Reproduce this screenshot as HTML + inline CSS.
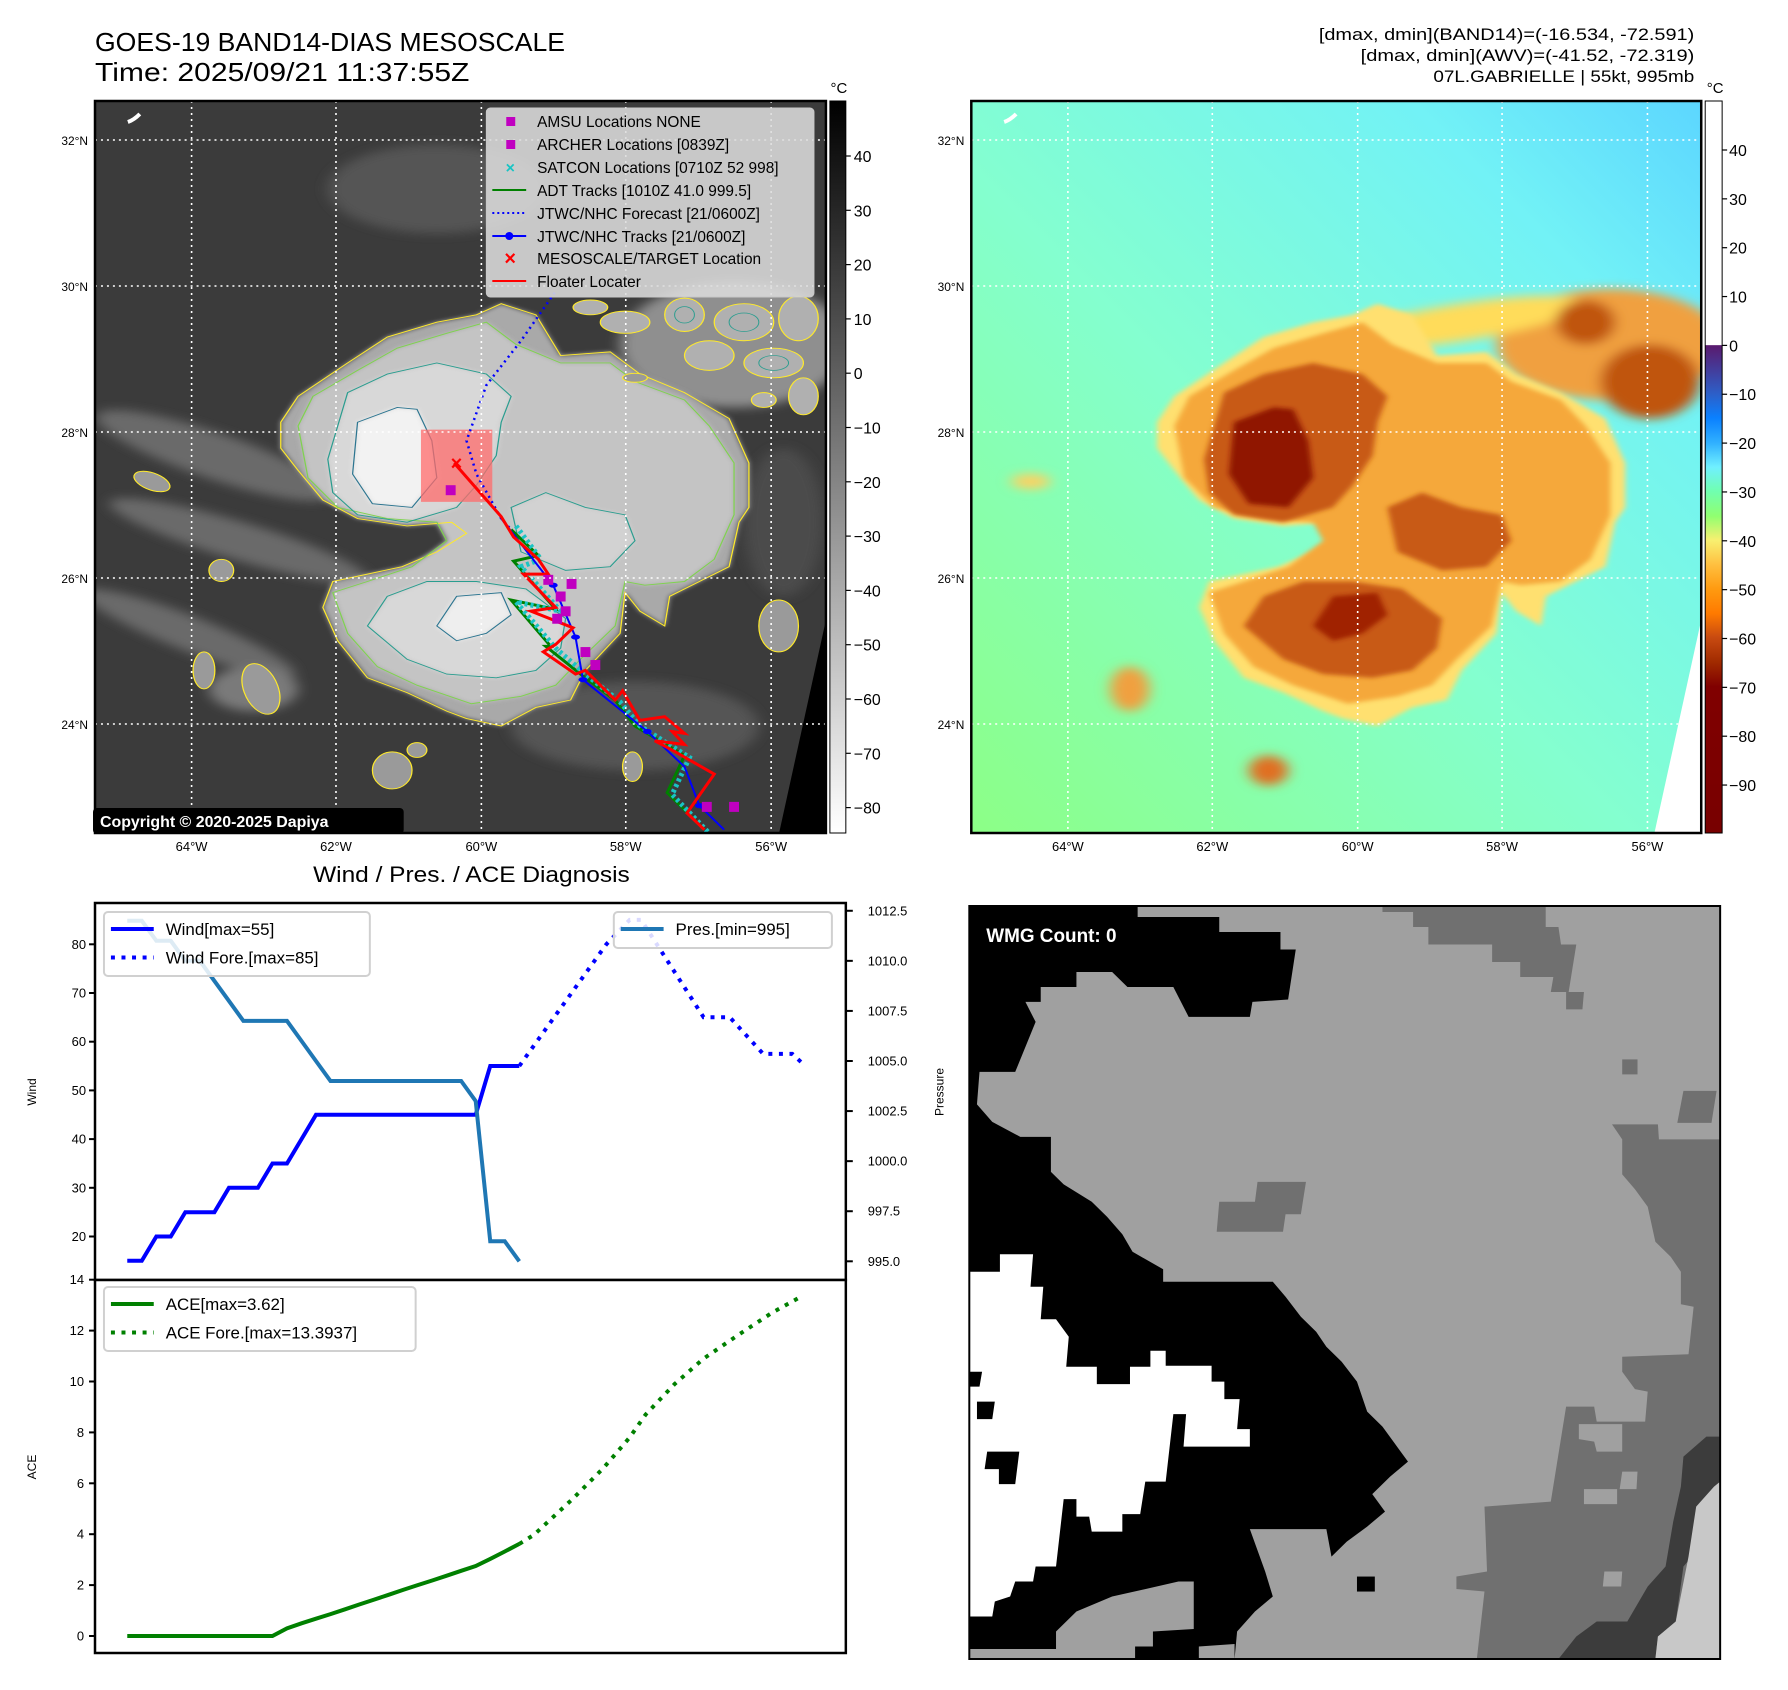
<!DOCTYPE html>
<html><head><meta charset="utf-8"><title>GOES-19 Band14 Mesoscale diagnostics</title>
<style>
html,body{margin:0;padding:0;background:#fff;}
svg{display:block;font-family:"Liberation Sans","DejaVu Sans",sans-serif;}
</style></head>
<body>
<svg id="page" width="1788" height="1690" viewBox="0 0 1788 1690" xmlns="http://www.w3.org/2000/svg">
<defs>
  <clipPath id="clipL"><rect x="95" y="101" width="734" height="732"/></clipPath>
  <clipPath id="clipR"><rect x="975" y="101" width="733" height="732"/></clipPath>
  <filter id="blur6" x="-20%" y="-20%" width="140%" height="140%"><feGaussianBlur stdDeviation="6"/></filter>
  <filter id="blur14" x="-30%" y="-30%" width="160%" height="160%"><feGaussianBlur stdDeviation="14"/></filter>
  <filter id="blur3"><feGaussianBlur stdDeviation="2.5"/></filter>
  <linearGradient id="cbGray" x1="0" y1="0" x2="0" y2="1">
    <stop offset="0" stop-color="#000"/><stop offset="1" stop-color="#fff"/>
  </linearGradient>
  <linearGradient id="cbJet" x1="0" y1="0" x2="0" y2="1">
    <stop offset="0" stop-color="#ffffff"/><stop offset="0.333" stop-color="#ffffff"/>
    <stop offset="0.334" stop-color="#5a1a6e"/><stop offset="0.4" stop-color="#2d5fc8"/>
    <stop offset="0.433" stop-color="#0a80ff"/><stop offset="0.467" stop-color="#30b0ff"/>
    <stop offset="0.5" stop-color="#70f0ff"/><stop offset="0.533" stop-color="#70ffb0"/>
    <stop offset="0.567" stop-color="#90ff70"/><stop offset="0.6" stop-color="#f8f070"/>
    <stop offset="0.633" stop-color="#ffc040"/><stop offset="0.667" stop-color="#ff9a10"/>
    <stop offset="0.7" stop-color="#ff7a00"/><stop offset="0.733" stop-color="#c84a10"/>
    <stop offset="0.767" stop-color="#a02a00"/><stop offset="0.8" stop-color="#800000"/>
    <stop offset="1" stop-color="#780000"/>
  </linearGradient>
  <linearGradient id="bgR" x1="0" y1="1" x2="1" y2="0">
    <stop offset="0" stop-color="#8cff86"/><stop offset="0.45" stop-color="#84ffcf"/>
    <stop offset="0.8" stop-color="#72f2f6"/><stop offset="1" stop-color="#5cd6ff"/>
  </linearGradient>
  <path id="outerShape" d="M385,330 L420,260 520,170 600,100 700,60 780,40 830,10 900,40 950,150 1050,140 1110,200 1200,250 1290,320 1330,440 1330,560 1310,600 1290,720 1230,760 1170,800 1160,880 1110,840 1080,790 1070,900 1000,1000 970,1080 900,1100 830,1150 760,1130 720,1110 640,1060 560,1020 500,920 470,830 490,760 630,720 700,680 760,630 730,600 640,610 540,590 470,540 420,460 385,400 Z"/>
  <path id="greenShape" d="M420,340 L450,260 540,190 620,130 720,90 800,60 860,120 950,170 1050,170 1100,220 1200,270 1250,340 1300,440 1300,580 1260,700 1200,760 1120,770 1080,760 1060,880 990,970 940,1040 870,1070 770,1090 660,1040 580,990 520,900 490,790 560,760 650,720 720,650 700,600 600,590 500,560 440,480 Z"/>
  <path id="tealUp" d="M500,340 L520,250 600,200 700,170 800,200 850,260 830,330 820,420 780,500 740,560 640,600 540,580 490,520 480,430 Z"/>
  <path id="tealLow" d="M560,880 L600,800 680,760 780,760 880,780 960,860 950,940 900,1000 820,1020 720,1010 640,970 Z"/>
  <path id="tealMid" d="M850,560 L920,520 1000,560 1080,580 1100,650 1050,720 960,730 870,680 Z"/>
  <path id="coreUp" d="M540,330 L620,290 660,295 690,380 700,480 650,560 570,550 530,470 Z"/>
  <path id="coreLow" d="M700,880 L740,800 830,790 850,850 800,900 740,920 Z"/>
</defs>

<g transform="translate(95,0) scale(0.9958,1) translate(-95,0)">
<!-- ================= TITLES ================= -->
<text x="95" y="51" font-size="26" textLength="472" lengthAdjust="spacingAndGlyphs">GOES-19 BAND14-DIAS MESOSCALE</text>
<text x="95" y="81" font-size="26" textLength="376" lengthAdjust="spacingAndGlyphs">Time: 2025/09/21 11:37:55Z</text>
<g font-size="17" text-anchor="end">
  <text x="1701" y="40" textLength="377" lengthAdjust="spacingAndGlyphs">[dmax, dmin](BAND14)=(-16.534, -72.591)</text>
  <text x="1701" y="61" textLength="335" lengthAdjust="spacingAndGlyphs">[dmax, dmin](AWV)=(-41.52, -72.319)</text>
  <text x="1701" y="82" textLength="262" lengthAdjust="spacingAndGlyphs">07L.GABRIELLE | 55kt, 995mb</text>
</g>

<!-- ================= LEFT MAP ================= -->
<g>
 <g clip-path="url(#clipL)">
  <rect x="95" y="101" width="734" height="732" fill="#3b3b3b"/>
  <g transform="matrix(0.4975,0,0,0.3704,90,300)">
    <g filter="url(#blur14)" fill="#6a6a6a">
      <ellipse cx="250" cy="420" rx="260" ry="60" transform="rotate(25 250 420)"/>
      <ellipse cx="300" cy="650" rx="280" ry="50" transform="rotate(22 300 650)"/>
      <ellipse cx="200" cy="900" rx="240" ry="45" transform="rotate(28 200 900)"/>
      <ellipse cx="700" cy="-300" rx="220" ry="120" fill="#555"/>
      <ellipse cx="1300" cy="120" rx="230" ry="170" fill="#8f8f8f"/>
      <ellipse cx="1100" cy="1150" rx="250" ry="120" fill="#555"/>
      <ellipse cx="330" cy="1050" rx="90" ry="60" fill="#7a7a7a"/>
      <ellipse cx="1400" cy="600" rx="80" ry="200" fill="#4c4c4c"/>
    </g>
    <use href="#outerShape" fill="#a9a9a9" filter="url(#blur6)"/>
    <use href="#greenShape" fill="#c4c4c4" filter="url(#blur6)"/>
    <use href="#tealUp" fill="#d8d8d8" filter="url(#blur6)"/>
    <use href="#tealLow" fill="#d8d8d8" filter="url(#blur6)"/>
    <use href="#tealMid" fill="#d2d2d2" filter="url(#blur6)"/>
    <use href="#coreUp" fill="#f2f2f2" filter="url(#blur6)"/>
    <use href="#coreLow" fill="#eeeeee" filter="url(#blur6)"/>
    <g fill="none">
      <use href="#outerShape" stroke="#ffea2a" stroke-width="2.5" vector-effect="non-scaling-stroke"/>
      <use href="#greenShape" stroke="#7fd34e" stroke-width="2.5"/>
      <use href="#tealUp" stroke="#2a9d8f" stroke-width="2.5"/>
      <use href="#tealLow" stroke="#2a9d8f" stroke-width="2.5"/>
      <use href="#tealMid" stroke="#2a9d8f" stroke-width="2.5"/>
      <use href="#coreUp" stroke="#2c7590" stroke-width="2.5"/>
      <use href="#coreLow" stroke="#2c7590" stroke-width="2.5"/>
    </g>
    <!-- NE speckled convection -->
    <g fill="#b0b0b0" stroke="#ffea2a" stroke-width="2.5">
      <ellipse cx="1080" cy="60" rx="50" ry="30"/>
      <ellipse cx="1200" cy="40" rx="40" ry="45"/>
      <ellipse cx="1320" cy="60" rx="60" ry="50"/>
      <ellipse cx="1430" cy="50" rx="40" ry="60"/>
      <ellipse cx="1250" cy="150" rx="50" ry="40"/>
      <ellipse cx="1380" cy="170" rx="60" ry="40"/>
      <ellipse cx="1440" cy="260" rx="30" ry="50"/>
      <ellipse cx="1360" cy="270" rx="25" ry="20"/>
      <ellipse cx="1010" cy="20" rx="35" ry="20"/>
    </g>
    <g fill="none" stroke="#2a9d8f" stroke-width="2">
      <ellipse cx="1320" cy="60" rx="30" ry="25"/><ellipse cx="1380" cy="170" rx="30" ry="20"/><ellipse cx="1200" cy="40" rx="20" ry="22"/>
    </g>
    <g fill="#9a9a9a" stroke="#ffea2a" stroke-width="2.5">
      <ellipse cx="125" cy="490" rx="40" ry="22" transform="rotate(30 125 490)"/>
      <ellipse cx="265" cy="730" rx="25" ry="30"/>
      <ellipse cx="230" cy="1000" rx="22" ry="50"/>
      <ellipse cx="345" cy="1050" rx="35" ry="70" transform="rotate(-15 345 1050)"/>
      <ellipse cx="610" cy="1270" rx="40" ry="50"/>
      <ellipse cx="660" cy="1215" rx="20" ry="20"/>
      <ellipse cx="1095" cy="1260" rx="20" ry="40"/>
      <ellipse cx="1390" cy="880" rx="40" ry="70"/>
      <ellipse cx="1100" cy="210" rx="25" ry="12"/>
    </g>
    <rect x="668" y="350" width="144" height="195" fill="#ff6b6b" fill-opacity="0.75"/>
    <polyline points="938,-20 870,110 800,230 760,380 780,470 830,590 850,620" fill="none" stroke="#0000ff" stroke-width="2.5" stroke-dasharray="2 4" vector-effect="non-scaling-stroke"/>
    <polyline points="850,620 905,690 855,705 940,835 850,810 930,935 920,935 990,1010 1060,1080 1100,1150 1200,1230 1165,1330 1240,1430" fill="none" stroke="#008000" stroke-width="3" vector-effect="non-scaling-stroke"/>
    <polyline points="860,610 910,700 870,720 950,840 860,815 940,940 1000,1010 1070,1085 1110,1150 1210,1235 1175,1335 1250,1440" fill="none" stroke="#19c4c4" stroke-width="5" stroke-dasharray="3 3" vector-effect="non-scaling-stroke"/>
    <polyline points="830,590 935,770 980,910 995,1025 1125,1165 1200,1260 1230,1365 1280,1430" fill="none" stroke="#0000ff" stroke-width="2" vector-effect="non-scaling-stroke"/>
    <g fill="#0000ff">
      <ellipse cx="935" cy="770" rx="9" ry="7"/><ellipse cx="980" cy="910" rx="9" ry="7"/>
      <ellipse cx="995" cy="1025" rx="9" ry="7"/><ellipse cx="1125" cy="1165" rx="9" ry="7"/>
      <ellipse cx="1230" cy="1365" rx="9" ry="7"/>
    </g>
    <polyline points="735,440 830,585 855,640 905,700 925,740 875,740 940,830 890,840 975,885 940,930 915,950 980,1010 1000,1000 1060,1080 1075,1055 1110,1135 1160,1125 1200,1170 1175,1165 1200,1200 1140,1190 1175,1215 1260,1280 1205,1385 1240,1430" fill="none" stroke="#ff0000" stroke-width="3" vector-effect="non-scaling-stroke"/>
    <g fill="#c000c0">
      <rect x="718" y="500" width="20" height="27"/><rect x="915" y="742" width="20" height="27"/>
      <rect x="962" y="753" width="20" height="27"/><rect x="940" y="787" width="20" height="27"/>
      <rect x="950" y="827" width="20" height="27"/><rect x="933" y="847" width="20" height="27"/>
      <rect x="990" y="937" width="20" height="27"/><rect x="1010" y="972" width="20" height="27"/>
      <rect x="1235" y="1355" width="20" height="27"/><rect x="1290" y="1355" width="20" height="27"/>
    </g>
  </g>
  <text x="458" y="470" font-size="20" font-weight="bold" fill="#ff0000" text-anchor="middle">×</text>
  <polygon points="829,620 829,833 782,833" fill="#000"/>
  <g stroke="#fff" stroke-width="1.6" stroke-dasharray="2 4">
    <line x1="192" y1="101" x2="192" y2="833"/><line x1="337" y1="101" x2="337" y2="833"/>
    <line x1="483" y1="101" x2="483" y2="833"/><line x1="628" y1="101" x2="628" y2="833"/>
    <line x1="774" y1="101" x2="774" y2="833"/>
    <line x1="95" y1="140" x2="829" y2="140"/><line x1="95" y1="286" x2="829" y2="286"/>
    <line x1="95" y1="432" x2="829" y2="432"/><line x1="95" y1="578" x2="829" y2="578"/>
    <line x1="95" y1="724" x2="829" y2="724"/>
  </g>
  <path d="M128,122 q6,-2 12,-8" stroke="#fff" stroke-width="4" fill="none"/>
 </g>
 <rect x="95" y="101" width="734" height="732" fill="none" stroke="#000" stroke-width="2.5"/>
 <g>
  <rect x="488" y="108" width="329" height="189" rx="4" fill="#dcdcdc" fill-opacity="0.88" stroke="#c8c8c8"/>
  <g font-size="15.5" fill="#000">
   <rect x="508" y="117" width="9" height="9" fill="#c000c0"/><text x="539" y="127">AMSU Locations NONE</text>
   <rect x="508" y="140" width="9" height="9" fill="#c000c0"/><text x="539" y="150">ARCHER Locations [0839Z]</text>
   <text x="512" y="173" fill="#19c4c4" font-weight="bold" text-anchor="middle" font-size="16">×</text><text x="539" y="173">SATCON Locations [0710Z 52 998]</text>
   <line x1="494" y1="190" x2="528" y2="190" stroke="#008000" stroke-width="2"/><text x="539" y="196">ADT Tracks [1010Z 41.0 999.5]</text>
   <line x1="494" y1="213" x2="528" y2="213" stroke="#0000ff" stroke-width="2" stroke-dasharray="2 3"/><text x="539" y="219">JTWC/NHC Forecast [21/0600Z]</text>
   <line x1="494" y1="236" x2="528" y2="236" stroke="#0000ff" stroke-width="2"/><circle cx="511" cy="236" r="4" fill="#0000ff"/><text x="539" y="242">JTWC/NHC Tracks [21/0600Z]</text>
   <text x="512" y="265" fill="#ff0000" font-weight="bold" text-anchor="middle" font-size="20">×</text><text x="539" y="264">MESOSCALE/TARGET Location</text>
   <line x1="494" y1="281" x2="528" y2="281" stroke="#ff0000" stroke-width="2"/><text x="539" y="287">Floater Locater</text>
  </g>
 </g>
 <g>
  <rect x="93" y="808" width="312" height="26" rx="4" fill="#000"/>
  <text x="100" y="827" font-size="16" font-weight="bold" fill="#fff">Copyright © 2020-2025 Dapiya</text>
 </g>
 <g font-size="12" text-anchor="end">
  <text x="88" y="145">32°N</text><text x="88" y="291">30°N</text><text x="88" y="437">28°N</text><text x="88" y="583">26°N</text><text x="88" y="729">24°N</text>
 </g>
 <g font-size="13" text-anchor="middle">
  <text x="192" y="851">64°W</text><text x="337" y="851">62°W</text><text x="483" y="851">60°W</text><text x="628" y="851">58°W</text><text x="774" y="851">56°W</text>
 </g>
</g>
<g>
 <rect x="833" y="101" width="16" height="732" fill="url(#cbGray)" stroke="#000" stroke-width="1"/>
 <text x="842" y="93" font-size="15" text-anchor="middle">°C</text>
 <g font-size="16" id="cbLticks"></g>
</g>

<!-- ================= RIGHT MAP ================= -->
<g>
 <g clip-path="url(#clipR)">
  <rect x="975" y="101" width="733" height="732" fill="url(#bgR)"/>
  <g transform="matrix(0.4975,0,0,0.3704,970,300)">
    <g filter="url(#blur14)">
      <ellipse cx="1300" cy="120" rx="230" ry="150" fill="#f0a040"/>
      <ellipse cx="1000" cy="60" rx="250" ry="50" fill="#ffdc5a" transform="rotate(-12 1000 60)"/>
      <ellipse cx="1380" cy="220" rx="100" ry="100" fill="#c05410"/>
      <ellipse cx="1250" cy="60" rx="60" ry="60" fill="#c05410"/>
      <ellipse cx="130" cy="490" rx="40" ry="20" fill="#ffd060"/>
      <ellipse cx="330" cy="1050" rx="40" ry="60" fill="#f0a040"/>
      <ellipse cx="610" cy="1270" rx="40" ry="40" fill="#e07020"/>
    </g>
    <use href="#outerShape" fill="#ffe070" filter="url(#blur6)"/>
    <use href="#greenShape" fill="#f5a83a" filter="url(#blur6)"/>
    <use href="#tealUp" fill="#c85a12" filter="url(#blur6)"/>
    <use href="#tealLow" fill="#c85a12" filter="url(#blur6)"/>
    <use href="#tealMid" fill="#c85a12" filter="url(#blur6)"/>
    <use href="#coreUp" fill="#901400" filter="url(#blur6)"/>
    <use href="#coreLow" fill="#a02000" filter="url(#blur6)"/>
  </g>
  <polygon points="1708,620 1708,833 1661,833" fill="#fff"/>
  <g stroke="#fff" stroke-width="1.6" stroke-dasharray="2 4">
    <line x1="1072" y1="101" x2="1072" y2="833"/><line x1="1217" y1="101" x2="1217" y2="833"/>
    <line x1="1363" y1="101" x2="1363" y2="833"/><line x1="1508" y1="101" x2="1508" y2="833"/>
    <line x1="1654" y1="101" x2="1654" y2="833"/>
    <line x1="975" y1="140" x2="1708" y2="140"/><line x1="975" y1="286" x2="1708" y2="286"/>
    <line x1="975" y1="432" x2="1708" y2="432"/><line x1="975" y1="578" x2="1708" y2="578"/>
    <line x1="975" y1="724" x2="1708" y2="724"/>
  </g>
  <path d="M1008,122 q6,-2 12,-8" stroke="#fff" stroke-width="4" fill="none"/>
 </g>
 <rect x="975" y="101" width="733" height="732" fill="none" stroke="#000" stroke-width="2.5"/>
 <g font-size="12" text-anchor="end">
  <text x="968" y="145">32°N</text><text x="968" y="291">30°N</text><text x="968" y="437">28°N</text><text x="968" y="583">26°N</text><text x="968" y="729">24°N</text>
 </g>
 <g font-size="13" text-anchor="middle">
  <text x="1072" y="851">64°W</text><text x="1217" y="851">62°W</text><text x="1363" y="851">60°W</text><text x="1508" y="851">58°W</text><text x="1654" y="851">56°W</text>
 </g>
</g>
<g>
 <rect x="1712" y="101" width="17" height="732" fill="url(#cbJet)" stroke="#000" stroke-width="1"/>
 <text x="1722" y="93" font-size="15" text-anchor="middle">°C</text>
 <g font-size="16" id="cbRticks"></g>
</g>

<!-- ================= DIAGNOSIS CHART ================= -->
<text x="473" y="882" font-size="22" text-anchor="middle" textLength="318" lengthAdjust="spacingAndGlyphs">Wind / Pres. / ACE Diagnosis</text>
<g id="chart"></g>

<!-- ================= WMG PANEL ================= -->
<g>
 <svg x="973" y="906" width="754" height="753" viewBox="20 8 1472 1507" preserveAspectRatio="none">
  <rect x="20" y="8" width="1472" height="1507" fill="#a0a0a0"/>
  <polygon fill="#707070" points="830,8 1150,8 1150,50 1175,50 1180,85 1210,85 1195,180 1225,180 1222,215 1190,215 1190,180 1160,180 1165,150 1100,150 1100,120 1045,120 1045,85 920,85 920,50 890,50 890,20 830,20"/>
  <polygon fill="#707070" points="510,600 580,600 585,560 680,560 670,625 640,625 635,660 505,660"/>
  <rect x="1300" y="315" width="30" height="30" fill="#707070"/>
  <polygon fill="#707070" points="1420,378 1485,378 1475,442 1408,442"/>
  <polygon fill="#707070" points="1280,445 1370,445 1372,475 1492,475 1492,1515 1015,1515 1030,1380 975,1375 975,1350 1035,1340 1030,1210 1160,1200 1190,1010 1245,1010 1250,1040 1345,1040 1350,980 1325,975 1300,940 1300,910 1430,905 1440,810 1415,805 1415,740 1395,710 1365,680 1350,610 1325,575 1300,545 1300,475"/>
  <polygon fill="#a0a0a0" points="1215,1045 1300,1045 1300,1100 1250,1100 1245,1080 1215,1075"/>
  <polygon fill="#a0a0a0" points="1225,1175 1290,1175 1290,1205 1225,1205"/>
  <polygon fill="#a0a0a0" points="1300,1140 1330,1140 1328,1175 1295,1175"/>
  <polygon fill="#a0a0a0" points="1265,1340 1300,1340 1298,1370 1262,1370"/>
  <polygon fill="#3c3c3c" points="1465,1070 1492,1070 1492,1170 1445,1300 1420,1330 1405,1440 1370,1470 1365,1515 1175,1515 1210,1470 1250,1440 1310,1440 1350,1370 1385,1330 1400,1240 1415,1170 1420,1110"/>
  <polygon fill="#c8c8c8" points="1480,1170 1492,1160 1492,1515 1365,1515 1370,1470 1405,1440 1430,1310 1445,1210"/>
  <polygon fill="#000" points="20,8 350,8 350,30 510,30 510,60 630,60 630,95 660,95 645,195 575,200 570,230 450,230 420,170 330,170 300,140 230,140 230,170 160,170 160,200 130,200 150,240 110,340 40,340 35,405 65,440 120,470 180,470 180,540 205,565 260,600 290,630 320,665 340,700 400,735 400,760 615,760 640,790 670,830 700,860 720,890 750,920 780,960 800,1020 830,1050 855,1085 880,1120 845,1150 810,1185 835,1220 800,1250 760,1280 730,1310 720,1255 570,1255 600,1340 615,1390 580,1420 545,1460 540,1515 20,1515"/>
  <polygon fill="#a0a0a0" points="20,1495 190,1495 190,1460 230,1420 300,1390 430,1360 460,1360 460,1455 380,1460 380,1490 345,1490 345,1515 20,1515"/>
  <polygon fill="#a0a0a0" points="470,1490 540,1485 540,1515 470,1515"/>
  <rect x="780" y="1350" width="35" height="30" fill="#000"/>
  <polygon fill="#fff" points="20,740 80,740 80,705 145,705 140,770 165,770 160,835 190,835 215,870 210,930 270,930 270,965 335,965 335,930 375,930 375,898 405,898 405,928 495,928 495,960 520,960 520,995 550,995 545,1055 570,1055 570,1090 440,1090 445,1025 420,1025 405,1160 365,1160 355,1225 320,1225 320,1260 260,1260 255,1230 230,1230 230,1195 205,1195 190,1330 150,1330 145,1360 110,1360 100,1390 70,1400 65,1430 20,1430"/>
  <polygon fill="#000" points="35,1000 70,1000 65,1035 35,1035"/>
  <polygon fill="#000" points="55,1100 118,1100 110,1165 78,1165 78,1135 50,1135"/>
  <polygon fill="#000" points="20,940 45,940 40,970 20,970"/>
 </svg>
 <rect x="973" y="906" width="754" height="753" fill="none" stroke="#000" stroke-width="2"/>
 <g>
  <rect x="984" y="918" width="185" height="33" rx="4" fill="#000"/>
  <text x="990" y="942" font-size="19" font-weight="bold" fill="#fff">WMG Count: 0</text>
 </g>
</g>
</g>

<script>
const windIdx = [0,1,2,3,4,5,6,7,8,9,10,11,12,13,14,15,16,17,18,19,20,21,22,23,24,25,26,27];
const windVals = [15,15,20,20,25,25,25,30,30,30,35,35,40,45,45,45,45,45,45,45,45,45,45,45,45,55,55,55];
const windForeIdx = [27,33,34.6,35.4,39.7,40.3,41.5,43.8,45.8,46.7];
const windForeVals = [55,80,85,85,65,65,65,57.5,57.5,55];
const presVals = [1012,1012,1011,1011,1010,1010,1009,1008,1007,1007,1007,1007,1006,1005,1004,1004,1004,1004,1004,1004,1004,1004,1004,1004,1003,996,996,995];
const aceVals = [0,0,0,0,0,0,0,0,0,0,0,0.3,0.5,0.68,0.86,1.05,1.24,1.43,1.62,1.81,2.0,2.18,2.37,2.56,2.75,3.03,3.32,3.62];
const aceForeIdx = [27,28,30.7,32.8,34.6,35.7,37.7,39.7,42,44.4,46.3];
const aceForeVals = [3.62,3.97,5.4,6.6,7.8,8.7,9.9,10.9,11.8,12.7,13.3];
const windTicks = [20,30,40,50,60,70,80];
const presTicks = [995.0,997.5,1000.0,1002.5,1005.0,1007.5,1010.0,1012.5];
const aceTicks = [0,2,4,6,8,10,12,14];
const cbLTicks = [40,30,20,10,0,-10,-20,-30,-40,-50,-60,-70,-80];
const cbRTicks = [40,30,20,10,0,-10,-20,-30,-40,-50,-60,-70,-80,-90];

const NS = 'http://www.w3.org/2000/svg';
const xS = i => 127.4 + 14.58 * i;
const yW = v => 944.3 - (v - 80) * 4.87;
const yP = p => 1261.3 - (p - 995) * 20.03;
const yA = a => 1636 - a * 25.45;
function mk(tag, attrs, parent) {
  const e = document.createElementNS(NS, tag);
  for (const k in attrs) e.setAttribute(k, attrs[k]);
  parent.appendChild(e);
  return e;
}
const chart = document.getElementById('chart');
function pts(xs, ys, fy) { return xs.map((x, k) => xS(x).toFixed(1) + ',' + fy(ys[k]).toFixed(1)).join(' '); }

let e = mk('rect', {x:95, y:903, width:754, height:377, fill:'#fff', stroke:'#000', 'stroke-width':2.5}, chart);


e = mk('rect', {x:95, y:1280, width:754, height:373, fill:'#fff', stroke:'#000', 'stroke-width':2.5}, chart);



e = mk('polyline', {points: pts(windIdx, windVals, yW), fill:'none', stroke:'#0000ff', 'stroke-width':4}, chart);


e = mk('polyline', {points: pts(windForeIdx, windForeVals, yW), fill:'none', stroke:'#0000ff', 'stroke-width':4, 'stroke-dasharray':'4 6.6'}, chart);


e = mk('polyline', {points: pts(windIdx, presVals, yP), fill:'none', stroke:'#1f77b4', 'stroke-width':4}, chart);


e = mk('polyline', {points: pts(windIdx, aceVals, yA), fill:'none', stroke:'#008000', 'stroke-width':4}, chart);


e = mk('polyline', {points: pts(aceForeIdx, aceForeVals, yA), fill:'none', stroke:'#008000', 'stroke-width':4, 'stroke-dasharray':'4 6.6'}, chart);



windTicks.forEach(v => {
  const y = yW(v);
  mk('line', {x1:89, y1:y, x2:95, y2:y, stroke:'#000', 'stroke-width':2}, chart);
  const t = mk('text', {x:86, y:y+4.5, 'font-size':13, 'text-anchor':'end'}, chart);
  t.textContent = v;
  
  
});
presTicks.forEach(p => {
  const y = yP(p);
  mk('line', {x1:849, y1:y, x2:856, y2:y, stroke:'#000', 'stroke-width':2}, chart);
  const t = mk('text', {x:871, y:y+4.5, 'font-size':13}, chart);
  t.textContent = p.toFixed(1);
  
  
});
aceTicks.forEach(a => {
  const y = yA(a);
  mk('line', {x1:89, y1:y, x2:95, y2:y, stroke:'#000', 'stroke-width':2}, chart);
  const t = mk('text', {x:84, y:y+4.5, 'font-size':13, 'text-anchor':'end'}, chart);
  t.textContent = a;
  
  
});
let t = mk('text', {x:0, y:0, 'font-size':12, 'text-anchor':'middle', transform:'translate(36,1092) rotate(-90)'}, chart);
t.textContent = 'Wind';


t = mk('text', {x:0, y:0, 'font-size':12, 'text-anchor':'middle', transform:'translate(947,1092) rotate(-90)'}, chart);
t.textContent = 'Pressure';


t = mk('text', {x:0, y:0, 'font-size':12, 'text-anchor':'middle', transform:'translate(36,1467) rotate(-90)'}, chart);
t.textContent = 'ACE';



function legend(name, x, y, w, h, entries) {
  const g = mk('g', {}, chart);
  
  
  mk('rect', {x:x, y:y, width:w, height:h, rx:4, fill:'#fff', 'fill-opacity':0.85, stroke:'#d0d0d0', 'stroke-width':2}, g);
  entries.forEach((en, k) => {
    const by = y + 23 + k * 28.5;
    const ln = {x1:x+7, y1:by-6, x2:x+50, y2:by-6, stroke:en.c, 'stroke-width':4};
    if (en.d) ln['stroke-dasharray'] = '4 6.6';
    mk('line', ln, g);
    const tx = mk('text', {x:x+62, y:by, 'font-size':17}, g);
    tx.textContent = en.label;
  });
}
legend('wind-legend', 104, 912, 267, 64, [{c:'#0000ff', label:'Wind[max=55]'}, {c:'#0000ff', d:true, label:'Wind Fore.[max=85]'}]);
legend('pressure-legend', 616, 912, 219, 36, [{c:'#1f77b4', label:'Pres.[min=995]'}]);
legend('ace-legend', 104, 1287, 313, 64, [{c:'#008000', label:'ACE[max=3.62]'}, {c:'#008000', d:true, label:'ACE Fore.[max=13.3937]'}]);

const cbL = document.getElementById('cbLticks');
cbLTicks.forEach(v => {
  const y = 156 + (40 - v) * 5.43;
  mk('line', {x1:849, y1:y, x2:854, y2:y, stroke:'#000', 'stroke-width':1.2}, cbL);
  const tx = mk('text', {x:857, y:y+6}, cbL);
  tx.textContent = v < 0 ? '\u2212' + (-v) : String(v);
  
  
});
const cbR = document.getElementById('cbRticks');
cbRTicks.forEach(v => {
  const y = 150 + (40 - v) * 4.885;
  mk('line', {x1:1729, y1:y, x2:1734, y2:y, stroke:'#000', 'stroke-width':1.2}, cbR);
  const tx = mk('text', {x:1736, y:y+6}, cbR);
  tx.textContent = v < 0 ? '\u2212' + (-v) : String(v);
  
  
});
</script>
</svg>
</body></html>
